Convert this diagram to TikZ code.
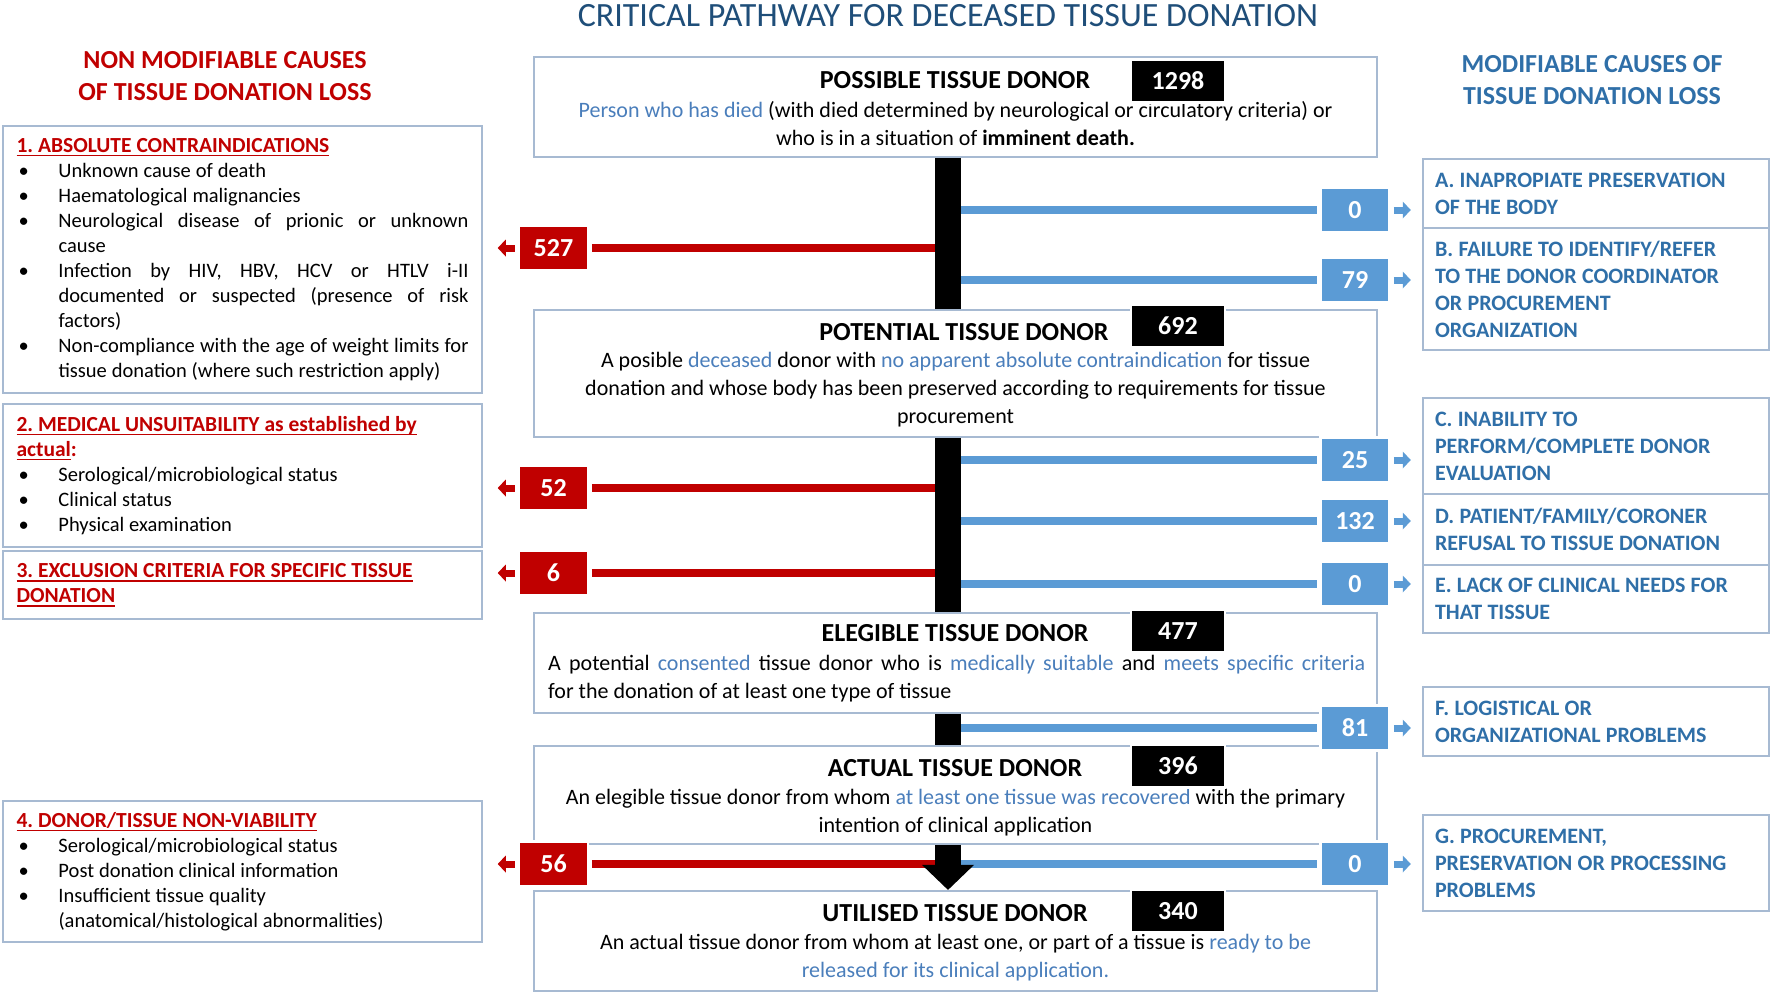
\documentclass[tikz,border=0pt]{standalone}
\usepackage{fontspec}
\setmainfont{Carlito}
\usetikzlibrary{arrows.meta,positioning}
\frenchspacing

\definecolor{lossred}{HTML}{C00000}
\definecolor{lossblue}{HTML}{5B9BD5}
\definecolor{keyblue}{HTML}{4A7EBB}
\definecolor{capblue}{HTML}{2F6FA8}
\definecolor{headblue}{HTML}{1F4E79}
\definecolor{boxedge}{HTML}{A7BAD2}

\newcommand{\kw}[1]{\textcolor{keyblue}{#1}}
\newcommand{\itm}[1]{\makebox[42pt][l]{\hspace{2pt}\textbullet}#1}
\newcommand{\cnt}[1]{\makebox[42pt][l]{}#1}
\newcommand{\jline}[2]{\makebox[#1][s]{\spaceskip=0.226em plus 1em minus 0.1em\relax #2}}
\newcommand{\cause}[1]{\textcolor{lossred}{\setbox0\hbox{#1}\rlap{\rule[-4pt]{\wd0}{1.6pt}}\box0}}

\begin{document}
\begin{tikzpicture}[
  x={(1pt,0pt)}, y={(0pt,-1pt)},
  stagebox/.style={draw=boxedge, line width=1.8pt, minimum width=843pt, inner sep=0pt},
  stagename/.style={inner sep=0pt, font=\bfseries\fontsize{26}{30}\selectfont},
  stagetext/.style={inner sep=0pt, align=center, font=\fontsize{22}{28}\selectfont},
  total/.style={fill=black, draw=white, line width=2.5pt, text=white, minimum width=94pt,
    minimum height=43pt, inner sep=0pt, font=\bfseries\fontsize{26}{28}\selectfont},
  lossn/.style={fill=lossred, draw=white, line width=2.5pt, text=white, minimum width=69pt,
    minimum height=45pt, inner sep=0pt, font=\bfseries\fontsize{26}{28}\selectfont},
  lossm/.style={lossn, fill=lossblue},
  tightspace/.style={execute at begin node={\spaceskip=0.24em plus 0.1em\relax}},
  nonmod/.style={draw=boxedge, line width=1.8pt, text width=452pt, inner xsep=13.5pt,
    inner ysep=0pt, align=left, tightspace, font=\fontsize{20.5}{25}\selectfont},
  modbox/.style={draw=boxedge, line width=1.8pt, text width=322pt, inner xsep=12pt,
    inner ysep=0pt, align=left, tightspace, text=capblue, font=\bfseries\fontsize{22}{27}\selectfont},
  colhead/.style={align=center, inner sep=0pt, font=\bfseries\fontsize{26}{32}\selectfont},
  pathbar/.style={line width=26pt},
  redline/.style={lossred, line width=8pt, shorten <=2.5pt},
  blueline/.style={lossblue, line width=8pt, shorten >=2.5pt},
  redtip/.style={lossred, line width=7pt, -{Triangle[length=8pt, width=17pt, line width=0pt]}},
  bluetip/.style={lossblue, line width=7pt, -{Triangle[length=8pt, width=17pt, line width=0pt]}}
]
\useasboundingbox (0,0) rectangle (1772,994);

% titles
\node[inner sep=0pt, text=headblue, font=\fontsize{34}{36}\selectfont] (maintitle) at (948,16)
  {CRITICAL PATHWAY FOR DECEASED TISSUE DONATION};
\node[colhead, text=lossred] (nonmodhead) at (225,76) {NON MODIFIABLE CAUSES\\OF TISSUE DONATION LOSS};
\node[colhead, text=capblue] (modhead) at (1592,80) {MODIFIABLE CAUSES OF\\TISSUE DONATION LOSS};

% stages of the pathway
\node[stagebox, minimum height=100pt] (possible) at (955.5,107) {};
\node[stagebox, minimum height=127pt] (potential) at (955.5,373.5) {};
\node[stagebox, minimum height=100pt] (elegible) at (955.5,663) {};
\node[stagebox, minimum height=98pt] (actual) at (955.5,795) {};
\node[stagebox, minimum height=100pt] (utilised) at (955.5,941) {};

\node[stagename] (possiblename) at (955,80) {POSSIBLE TISSUE DONOR};
\node[stagetext] (possibletext) at (955.5,124)
  {\kw{Person who has died} (with died determined by neurological or circulatory criteria) or\\
   who is in a situation of \textbf{imminent death.}};
\node[stagename] (potentialname) at (964,332) {POTENTIAL TISSUE DONOR};
\node[stagetext] (potentialtext) at (955.5,390)
  {A posible \kw{deceased} donor with \kw{no apparent absolute contraindication} for tissue\\
   donation and whose body has been preserved according to requirements for tissue\\
   procurement};
\node[stagename] (elegiblename) at (955,633) {ELEGIBLE TISSUE DONOR};
\node[stagetext, align=left, anchor=west] (elegibletext) at (548,679)
  {\jline{817pt}{A potential \kw{consented} tissue donor who is \kw{medically suitable} and \kw{meets specific criteria}}\\
   for the donation of at least one type of tissue};
\node[stagename] (actualname) at (955,768) {ACTUAL TISSUE DONOR};
\node[stagetext] (actualtext) at (955.5,812.5)
  {An elegible tissue donor from whom \kw{at least one tissue was recovered} with the primary\\
   intention of clinical application};
\node[stagename] (utilisedname) at (955,913) {UTILISED TISSUE DONOR};
\node[stagetext] (utilisedtext) at (955.5,957.5)
  {An actual tissue donor from whom at least one, or part of a tissue is \kw{ready to be}\\
   \kw{released for its clinical application.}};

\node[total] (t1298) at (1178,81) {1298};
\node[total] (t692) at (1178,326) {692};
\node[total] (t477) at (1178,631) {477};
\node[total] (t396) at (1178,766) {396};
\node[total] (t340) at (1178,911) {340};

% non modifiable causes
\node[nonmod, minimum height=267pt] (absolute) at (242.5,259.5)
  {{\bfseries\fontsize{21.5}{25}\selectfont\cause{1. ABSOLUTE CONTRAINDICATIONS}}\\
   \itm{Unknown cause of death}\\
   \itm{Haematological malignancies}\\
   \itm{\jline{410pt}{Neurological disease of prionic or unknown}}\\
   \cnt{cause}\\
   \itm{\jline{410pt}{Infection by HIV, HBV, HCV or HTLV i-II}}\\
   \cnt{\jline{410pt}{documented or suspected (presence of risk}}\\
   \cnt{factors)}\\
   \itm{\jline{410pt}{Non-compliance with the age of weight limits for}}\\
   \cnt{tissue donation (where such restriction apply)}};
\node[nonmod, minimum height=143pt] (unsuitable) at (242.5,475.5)
  {{\bfseries\fontsize{21.5}{27}\selectfont\cause{2. MEDICAL UNSUITABILITY as established by}\\
    \cause{actual}\textcolor{lossred}{:}}\\
   \itm{Serological/microbiological status}\\
   \itm{Clinical status}\\
   \itm{Physical examination}};
\node[nonmod, minimum height=68pt] (exclusion) at (242.5,585)
  {{\bfseries\fontsize{21.5}{26}\selectfont\cause{3. EXCLUSION CRITERIA FOR SPECIFIC TISSUE}\\
    \cause{DONATION}}};
\node[nonmod, minimum height=141pt] (nonviable) at (242.5,871.5)
  {{\bfseries\fontsize{21.5}{25}\selectfont\cause{4. DONOR/TISSUE NON-VIABILITY}}\\
   \itm{Serological/microbiological status}\\
   \itm{Post donation clinical information}\\
   \itm{Insufficient tissue quality}\\
   \cnt{(anatomical/histological abnormalities)}};

% modifiable causes
\node[modbox, minimum height=69pt] (causeA) at (1596,193.5) {A. INAPROPIATE PRESERVATION\\OF THE BODY};
\node[modbox, minimum height=122pt] (causeB) at (1596,289)
  {B. FAILURE TO IDENTIFY/REFER\\TO THE DONOR COORDINATOR\\OR PROCUREMENT\\ORGANIZATION};
\node[modbox, minimum height=96pt] (causeC) at (1596,446) {C. INABILITY TO\\PERFORM/COMPLETE DONOR\\EVALUATION};
\node[modbox, minimum height=71pt] (causeD) at (1596,529.5) {D. PATIENT/FAMILY/CORONER\\REFUSAL TO TISSUE DONATION};
\node[modbox, minimum height=68pt] (causeE) at (1596,599) {E. LACK OF CLINICAL NEEDS FOR\\THAT TISSUE};
\node[modbox, minimum height=69pt] (causeF) at (1596,721.5) {F. LOGISTICAL OR\\ORGANIZATIONAL PROBLEMS};
\node[modbox, minimum height=96pt] (causeG) at (1596,863) {G. PROCUREMENT,\\PRESERVATION OR PROCESSING\\PROBLEMS};

% losses
\node[lossn] (n527) at (553.5,248) {527};
\node[lossn] (n52) at (553.5,488) {52};
\node[lossn] (n6) at (553.5,573) {6};
\node[lossn] (n56) at (553.5,864) {56};
\node[lossm] (lossA) at (1355,210) {0};
\node[lossm] (lossB) at (1355,280) {79};
\node[lossm] (lossC) at (1355,460) {25};
\node[lossm] (lossD) at (1355,521) {132};
\node[lossm] (lossE) at (1355,584) {0};
\node[lossm] (lossF) at (1355,728) {81};
\node[lossm] (lossG) at (1355,864) {0};

\coordinate (barx) at (948,0);
\foreach \n in {n527,n52,n6,n56} {
  \draw[redline] (\n.east) -- (\n.east -| barx);
  \draw[redtip] ([xshift=-3pt]\n.west) -- ++(-17,0);
}
\foreach \n in {lossA,lossB,lossC,lossD,lossE,lossF,lossG} {
  \draw[blueline] (barx |- \n.west) -- (\n.west);
  \draw[bluetip] ([xshift=3pt]\n.east) -- ++(17,0);
}

% main pathway
\draw[pathbar] (possible.south -| barx) -- (potential.north -| barx);
\draw[pathbar] (potential.south -| barx) -- (elegible.north -| barx);
\draw[pathbar] (elegible.south -| barx) -- (actual.north -| barx);
\draw[pathbar] (actual.south -| barx) -- ++(0,20) coordinate (tipbase);
\fill (tipbase) ++(-26,0) -- ++(52,0) -- ++(-26,25) -- cycle;
\end{tikzpicture}
\end{document}
